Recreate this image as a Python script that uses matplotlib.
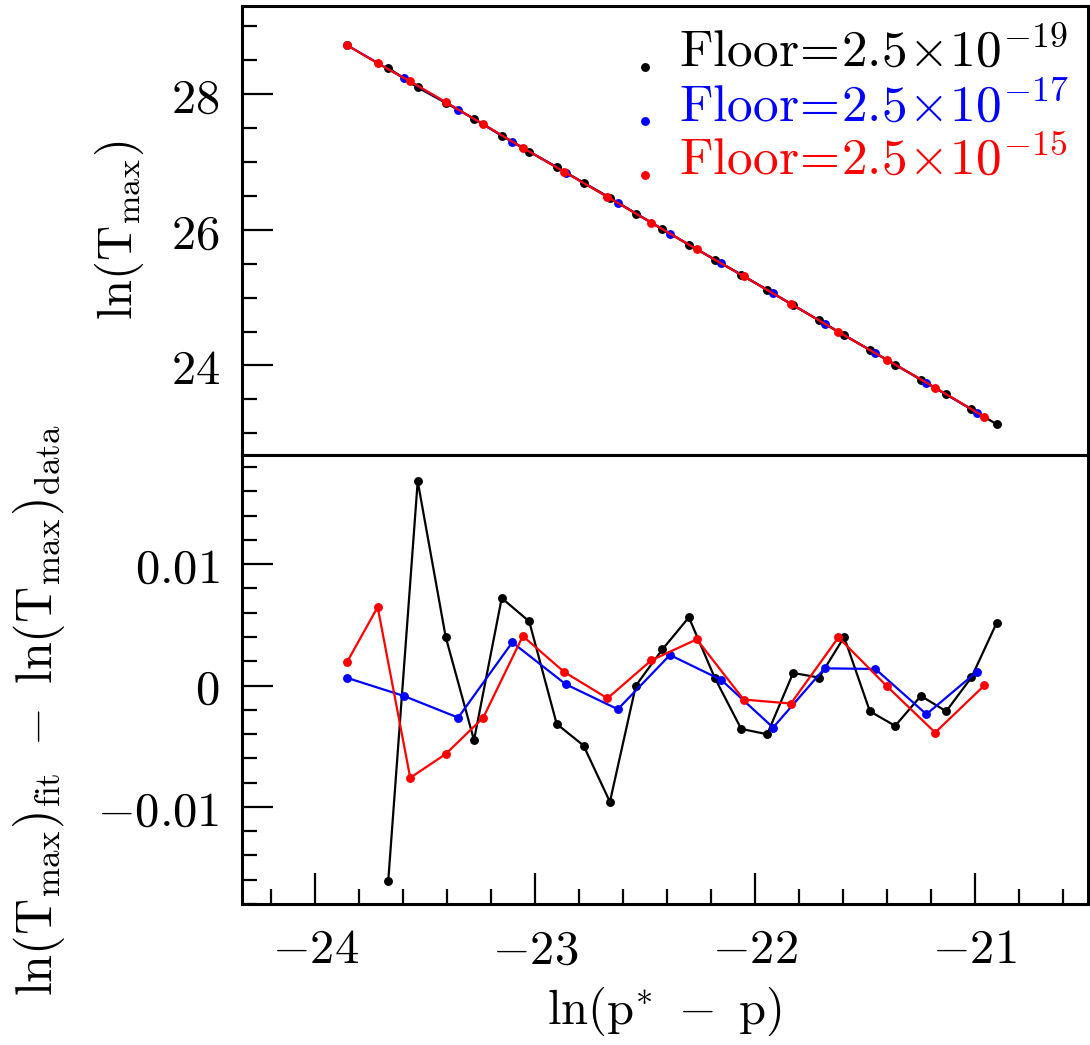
import numpy as np
import matplotlib
matplotlib.use("Agg")
import matplotlib.pyplot as plt
from matplotlib.ticker import MultipleLocator

plt.rcParams['mathtext.fontset'] = 'cm'
plt.rcParams['font.family'] = 'serif'
plt.rcParams['font.serif'] = ['DejaVu Serif']

# ln(p* - p) for each floor run
x_19 = [-23.667, -23.533, -23.406, -23.277, -23.151, -23.026, -22.901, -22.779,
        -22.659, -22.541, -22.420, -22.300, -22.182, -22.062, -21.944, -21.826,
        -21.708, -21.594, -21.477, -21.362, -21.245, -21.130, -21.015, -20.901]
x_17 = [-23.853, -23.597, -23.349, -23.103, -22.860, -22.623, -22.386, -22.152,
        -21.917, -21.683, -21.452, -21.220, -20.990]
x_15 = [-23.853, -23.715, -23.567, -23.405, -23.235, -23.055, -22.867, -22.670,
        -22.471, -22.264, -22.051, -21.836, -21.620, -21.401, -21.180, -20.956]

# ln(T_max) from the data
lnT_19 = [28.386, 28.099, 27.872, 27.637, 27.387, 27.152, 26.924, 26.695,
          26.473, 26.240, 26.009, 25.779, 25.560, 25.339, 25.115, 24.887,
          24.664, 24.446, 24.230, 24.014, 23.791, 23.574, 23.354, 23.134]
lnT_17 = [28.720, 28.238, 27.771, 27.299, 26.844, 26.397, 25.944, 25.504,
          25.064, 24.617, 24.180, 23.744, 23.306]
lnT_15 = [28.719, 28.454, 28.188, 27.880, 27.556, 27.208, 26.856, 26.485,
          26.106, 25.713, 25.315, 24.909, 24.495, 24.085, 23.671, 23.243]

# residuals ln(T_max)_fit - ln(T_max)_data
res_19 = [-0.01611, 0.01684, 0.00403, -0.00450, 0.00721, 0.00529, -0.00316, -0.00494,
          -0.00958, 0.00000, 0.00299, 0.00562, 0.00063, -0.00357, -0.00401, 0.00104,
          0.00066, 0.00400, -0.00212, -0.00332, -0.00085, -0.00212, 0.00068, 0.00515]
res_17 = [0.00063, -0.00085, -0.00264, 0.00356, 0.00011, -0.00195, 0.00252, 0.00046,
          -0.00346, 0.00142, 0.00137, -0.00236, 0.00115]
res_15 = [0.00198, 0.00647, -0.00760, -0.00563, -0.00264, 0.00408, 0.00112, -0.00105,
          0.00208, 0.00381, -0.00115, -0.00148, 0.00397, -0.00003, -0.00387, 0.00002]

labels = [r'$\mathrm{Floor}\!=\!2.5\!\times\!10^{-19}$',
          r'$\mathrm{Floor}\!=\!2.5\!\times\!10^{-17}$',
          r'$\mathrm{Floor}\!=\!2.5\!\times\!10^{-15}$']
colors = ['black', '#0000ff', '#ff0000']

fs = 35
fig = plt.figure(figsize=(10.9, 10.45), dpi=100)
ax1 = fig.add_axes([0.222, 0.5646, 0.776, 0.4297])
ax2 = fig.add_axes([0.222, 0.1349, 0.776, 0.4297], sharex=ax1)

series = [(x_19, lnT_19, res_19), (x_17, lnT_17, res_17), (x_15, lnT_15, res_15)]
for (xs, lt, rs), c in zip(series, colors):
    ax1.plot(xs, lt, '-o', color=c, lw=1.6, ms=6.4, mew=0)
    ax2.plot(xs, rs, '-o', color=c, lw=1.6, ms=6.4, mew=0)

ax1.set_xlim(-24.332, -20.486)
ax1.set_ylim(22.68, 29.30)
ax2.set_ylim(-0.0180, 0.0190)

ax1.set_yticks([24, 26, 28])
ax1.set_yticklabels([r'$24$', r'$26$', r'$28$'])
ax1.yaxis.set_minor_locator(MultipleLocator(0.5))
ax2.set_yticks([-0.01, 0, 0.01])
ax2.set_yticklabels([r'$-0.01$', r'$0$', r'$0.01$'])
ax2.yaxis.set_minor_locator(MultipleLocator(0.002))
ax2.set_xticks([-24, -23, -22, -21])
ax2.set_xticklabels([r'$-24$', r'$-23$', r'$-22$', r'$-21$'])
ax2.xaxis.set_minor_locator(MultipleLocator(0.2))
plt.setp(ax1.get_xticklabels(), visible=False)

for ax in (ax1, ax2):
    for sp in ax.spines.values():
        sp.set_linewidth(2.2)
    ax.tick_params(which='both', direction='in', top=False, right=False,
                   labelsize=fs, width=1.6)
    ax.tick_params(which='major', length=22, pad=16)
    ax.tick_params(which='minor', length=11)
ax1.tick_params(axis='x', which='both', bottom=False)

ax1.set_ylabel(r'$\mathrm{ln(T_{max})}$', fontsize=fs, labelpad=18)
ax2.set_xlabel(r'$\mathrm{ln(p}^{*}\ -\ \mathrm{p)}$', fontsize=fs, labelpad=8)
fig.text(0.036, 0.32, r'$\mathrm{ln(T_{max})_{fit}}\ -\ \mathrm{ln(T_{max})_{data}}$',
         fontsize=36, rotation=90, ha='center', va='center')

# legend: dot on the text baseline, coloured label
for i, (lab, c) in enumerate(zip(labels, colors)):
    yb = 0.865 - i * 0.1205
    ax1.plot([0.476], [yb], 'o', color=c, ms=6.4, mew=0, transform=ax1.transAxes, clip_on=False)
    ax1.text(0.517, yb, lab, color=c, fontsize=37, transform=ax1.transAxes,
             ha='left', va='baseline')

fig.savefig('out.png', dpi=100)
